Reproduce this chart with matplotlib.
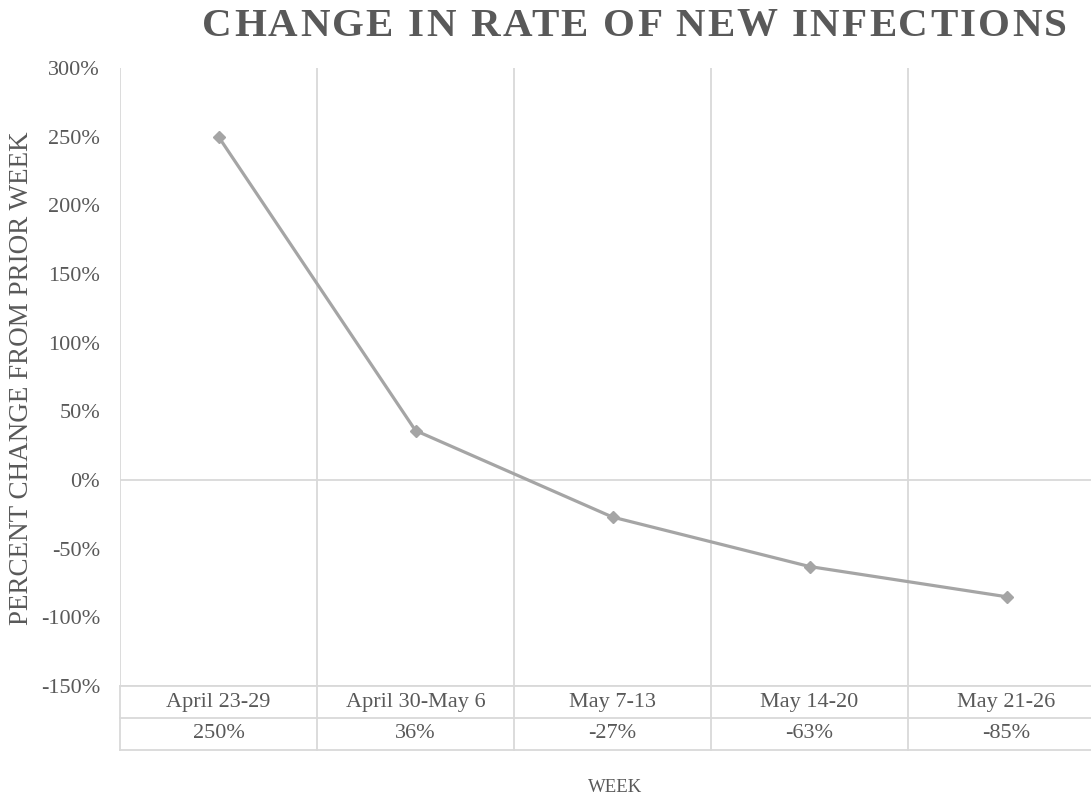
import matplotlib
matplotlib.use("Agg")
import matplotlib.pyplot as plt
from matplotlib.ticker import FuncFormatter
from matplotlib.font_manager import FontProperties

weeks = ["April 23-29", "April 30-May 6", "May 7-13", "May 14-20", "May 21-26"]
pct_change = [250, 36, -27, -63, -85]
y_ticks = [-150, -100, -50, 0, 50, 100, 150, 200, 250, 300]

TEXT = "#595959"
GRID = "#d9d9d9"
LINE = "#a5a5a5"
SERIF = ["Liberation Serif", "DejaVu Serif"]

W, H = 1091, 797
fig = plt.figure(figsize=(W / 100, H / 100), dpi=100)

def fx(px):
    return px / W

def fy(py):
    return 1 - py / H

left, right = 120, 1105
top, bottom = 68, 686
ax = fig.add_axes([fx(left), fy(bottom), fx(right - left), (bottom - top) / H])
n = len(weeks)
x = [i + 0.5 for i in range(n)]
ax.set_xlim(0, n)
ax.set_ylim(-150, 300)

for i in range(n + 1):
    ax.axvline(i, color=GRID, lw=1.3, zorder=1)
ax.axhline(0, color=GRID, lw=1.3, zorder=1)
ax.axhline(-150, color=GRID, lw=1.3, zorder=1)

ax.plot(x, pct_change, color=LINE, lw=2.3, marker="D", ms=6,
        markerfacecolor=LINE, markeredgecolor=LINE, zorder=3)

for s in ax.spines.values():
    s.set_visible(False)
ax.set_xticks([])
ax.set_yticks(y_ticks)
ax.yaxis.set_major_formatter(FuncFormatter(lambda v, p: f"{int(v)}%"))
ax.tick_params(axis="y", length=0, pad=14.4, labelcolor=TEXT, labelsize=16)
for lab in ax.get_yticklabels():
    lab.set_fontfamily(SERIF)

# data table under the plot
row_h = 32
tab = fig.add_axes([fx(left), fy(bottom + 2 * row_h), fx(right - left), 2 * row_h / H])
tab.set_xlim(0, n)
tab.set_ylim(0, 2)
tab.axis("off")
for yy in (0, 1, 2):
    tab.plot([0, n], [yy, yy], color=GRID, lw=1.3, clip_on=False)
for i in range(n + 1):
    tab.plot([i, i], [0, 2], color=GRID, lw=1.3, clip_on=False)
for i, (wk, v) in enumerate(zip(weeks, pct_change)):
    tab.text(i + 0.5, 1.5, wk, ha="center", va="center", color=TEXT,
             fontsize=16, family=SERIF)
    tab.text(i + 0.5, 0.5, f"{v}%", ha="center", va="center", color=TEXT,
             fontsize=16, family=SERIF)

# letter-spaced title
title = "CHANGE IN RATE OF NEW INFECTIONS"
t_left, t_right, t_y = 202, 1067, 26
fp = FontProperties(family=SERIF, weight="bold", size=29.5)
renderer = fig.canvas.get_renderer()

def width_px(s):
    w, _, _ = renderer.get_text_width_height_descent(s, fp, ismath=False)
    return w

total = width_px(title)
track = (t_right - t_left - total) / (len(title) - 1)
for k, ch in enumerate(title):
    if ch == " ":
        continue
    pos = width_px(title[:k + 1]) - width_px(ch) + k * track
    fig.text(fx(t_left + pos), fy(t_y), ch, ha="left", va="center",
             color=TEXT, fontproperties=fp)

fig.text(fx(22), fy(378), "PERCENT CHANGE FROM PRIOR WEEK", rotation=90,
         ha="center", va="center", color=TEXT, fontsize=19.5, family=SERIF)
fig.text(fx(615), fy(787), "WEEK", ha="center", va="center", color=TEXT,
         fontsize=13.5, family=SERIF)

fig.savefig("out.png", dpi=100)
